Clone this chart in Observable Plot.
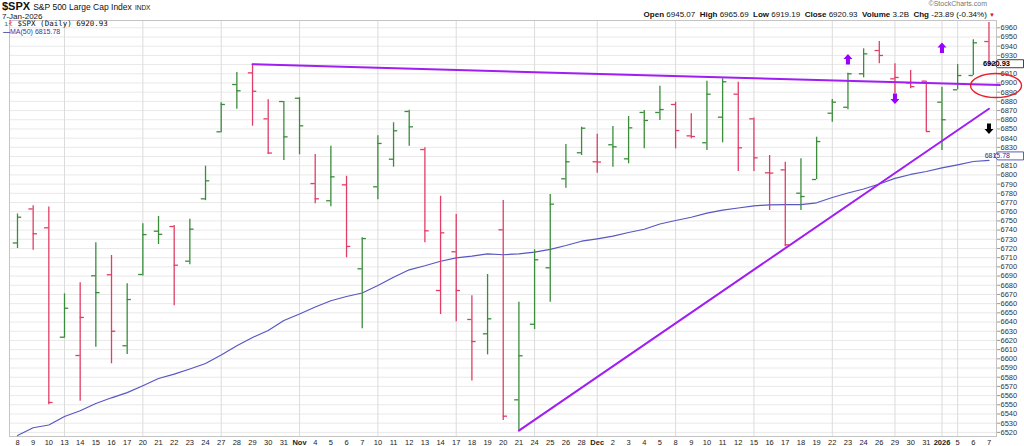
<!DOCTYPE html>
<html><head><meta charset="utf-8">
<script src="https://cdn.jsdelivr.net/npm/d3@7"></script>
<script src="https://cdn.jsdelivr.net/npm/@observablehq/plot@0.6"></script>
<style>
body{margin:0;background:#fff;font-family:"Liberation Sans",Arial,sans-serif;}
#wrap{position:relative;width:1024px;height:446px;overflow:hidden;}
#chart{position:absolute;left:0;top:20px;}
.abs{position:absolute;white-space:nowrap;}
</style></head>
<body><div id="wrap">
<div class="abs" style="left:2px;top:0px;font-size:11px;line-height:13px;color:#111"><b>$SPX</b> <span style="font-size:8.5px">S&amp;P 500 Large Cap Index</span> <span style="font-size:6.5px">INDX</span></div>
<div class="abs" style="left:2px;top:13px;font-size:8px;line-height:7px;color:#111">7-Jan-2026</div>
<div class="abs" style="right:37px;top:0px;font-size:7px;line-height:8px;color:#777">©StockCharts.com</div>
<div class="abs" id="info" style="right:29px;top:10px;font-size:8px;line-height:10px;color:#111"></div>
<div id="chart"></div>
<div class="abs" id="leg1" style="left:4px;top:20px;font-size:7.5px;line-height:7px;font-family:'DejaVu Sans Mono',monospace;color:#111"></div>
<div class="abs" id="leg2" style="left:3px;top:28px;font-size:7px;line-height:7px;color:#3434a8"></div>
</div>
<script>
// ---- data ----
const dateLabels = ["8","9","10","13","14","15","16","17","20","21","22","23","24","27","28","29","30","31",
 "Nov","4","5","6","7","10","11","12","13","14","17","18","19","20","21","24","25","26","28",
 "Dec","2","3","4","5","8","9","10","11","12","15","16","17","18","19","22","23","24","26","29","30","31",
 "2026","5","6","7"];
const boldLabels = ["Nov","Dec","2026"];
const opens  = [6726,6763,6742.5,6623.5,6603.6,6690.3,6691.4,6614.2,6691.7,6738.8,6743.9,6706.2,6774,6846.9,6898.3,6911,6861,6879.8,
 6883.4,6790.6,6771.9,6789.2,6697.9,6787.1,6817.1,6869,6827.6,6674.3,6716.4,6642.8,6627.2,6740.3,6555.4,6637.6,6699,6795.8,6824.1,
 6814.3,6832.8,6817.5,6867.9,6867.9,6876.6,6842.5,6835,6862.8,6887.8,6861,6802.3,6805.5,6780.1,6795,6867.1,6873.6,6910,6935.3,6904.5,6900,6902,
 6879.1,6892.6,6908.1,6945.07];
const highs  = [6757.5,6766.5,6765,6670.7,6682.7,6726.2,6712.4,6681.6,6746.8,6754.8,6745,6751.8,6809.5,6878.4,6911.4,6920.34,6881.7,6879.8,
 6884,6822.2,6831.2,6798.6,6731.6,6842.5,6856.7,6870.4,6829.5,6776.8,6756.9,6668.5,6691.7,6772.2,6661.6,6718.6,6778.7,6833.1,6851.9,
 6844.2,6852.7,6863.5,6870,6896.5,6879.1,6866.5,6901.9,6904.5,6900.9,6862,6821.1,6813.8,6817.5,6841,6882,6910.6,6937.1,6945.1,6920.8,6913.6,6902,
 6895.4,6920,6946.9,6965.69];
const lows   = [6720,6718,6550,6622.4,6553.9,6612.6,6594.6,6604.7,6690,6724.3,6657.6,6702.2,6772,6845.8,6871.5,6853,6822.2,6815.7,
 6821.9,6768.6,6765.3,6709.9,6632.6,6772.9,6808.4,6831.2,6726.2,6648.2,6640.3,6576,6604.3,6532.9,6521.9,6631.9,6661.6,6785.6,6821.1,
 6801.9,6808.4,6812.1,6828.4,6859.2,6828.4,6839.3,6826.6,6834.9,6803.7,6803.7,6761.3,6722,6761.3,6795,6857.3,6870.8,6905.6,6920.8,6888.2,6893.7,6847.2,
 6826.6,6892.6,6908.1,6919.19];
const closes = [6754,6736,6552.5,6655,6645,6672,6630,6664.5,6735.1,6735.4,6701.8,6741,6793.6,6876.6,6891.5,6891,6823.8,6841.4,
 6853.4,6774,6797.9,6722.2,6730.8,6834.2,6848,6852.3,6739.2,6737,6674.3,6618.8,6643.5,6537.6,6603.3,6707.7,6768.2,6814.3,6850.8,
 6814,6830.6,6851.2,6859.2,6871.1,6848.3,6841.8,6887.8,6901.3,6829.5,6818.6,6802,6724,6776.5,6836.3,6879.1,6910,6931.7,6929.9,6906,6896,6847.2,
 6860,6908.1,6943.7,6920.93];
const prevClose = 6714.6;
const ma50 = [6516.6,6525,6528,6537.3,6543.5,6551.4,6557.6,6563.2,6570.7,6578.6,6583.3,6588.9,6594.9,6604.1,6614.2,6623.2,6630.8,6641.7,
 6648.7,6656.4,6663.2,6667.8,6671.6,6679.7,6688.7,6696.8,6701.2,6706.1,6709.8,6711.6,6714.2,6713.2,6714.2,6716,6719.1,6723.2,6727.9,
 6730.5,6733.4,6737.4,6740.9,6746.6,6750.4,6754,6758.4,6761.8,6764,6766.4,6767.5,6767.6,6767.8,6769.7,6775.4,6780.3,6784.7,6790.1,6796.2,6800.5,6803.7,
 6807.6,6811,6814.6,6815.78];
const weekStartIdx = [3,8,13,18,23,28,33,37,42,47,52,56,59,60];
const resistanceLine = [[15,6920.34],[62.7,6897.7]];
const supportLine = [[32,6521.9],[62,6872]];
const upArrowsPurple = [[53,6925.5],[59,6938]];
const downArrowsPurple = [[56,6883]];
const downArrowsBlack = [[62,6850.5]];
const circled = [[62.45,6897.2]];
const lastClose = 6920.93, lastMA = 6815.78;
const yTicks = d3.range(6520, 6961, 10);
const hiddenYLabels = [6920, 6820];

// ---- header texts ----
document.getElementById("info").innerHTML =
 "<b>Open</b> 6945.07 &nbsp;<b>High</b> 6965.69 &nbsp;<b>Low</b> 6919.19 &nbsp;<b>Close</b> 6920.93 &nbsp;<b>Volume</b> 3.2B &nbsp;<b>Chg</b> -23.89 (-0.34%) <span style='color:#d0103a;font-size:6px'>&#9660;</span>";
document.getElementById("leg1").innerHTML =
 "<span style='color:#3b8c3b'>ı</span><span style='color:#e03a62'>ł</span> $SPX (Daily) " + lastClose.toFixed(2);
document.getElementById("leg2").innerHTML = "<b>&#8212;</b>MA(50) " + lastMA.toFixed(2);

// ---- build ----
const green = "#3b8c3b", red = "#e23d66";
const rows = dateLabels.map((d, i) => ({i, o: opens[i], h: highs[i], l: lows[i], c: closes[i],
  up: closes[i] > (i ? closes[i-1] : prevClose)}));
const maRows = ma50.map((v, i) => ({i, v}));
const tw = 0.27;

const upSym = {draw(ctx){ctx.moveTo(0,-5.5);ctx.lineTo(4.5,-0.5);ctx.lineTo(2,-0.5);ctx.lineTo(2,5);ctx.lineTo(-2,5);ctx.lineTo(-2,-0.5);ctx.lineTo(-4.5,-0.5);ctx.closePath();}};
const downSym = {draw(ctx){ctx.moveTo(0,5.5);ctx.lineTo(4.5,0.5);ctx.lineTo(2,0.5);ctx.lineTo(2,-5);ctx.lineTo(-2,-5);ctx.lineTo(-2,0.5);ctx.lineTo(-4.5,0.5);ctx.closePath();}};
const ellSym = {draw(ctx){const rx=25.5, ry=12, k=0.5523;
  ctx.moveTo(rx,0);ctx.bezierCurveTo(rx,ry*k,rx*k,ry,0,ry);ctx.bezierCurveTo(-rx*k,ry,-rx,ry*k,-rx,0);
  ctx.bezierCurveTo(-rx,-ry*k,-rx*k,-ry,0,-ry);ctx.bezierCurveTo(rx*k,-ry,rx,-ry*k,rx,0);ctx.closePath();}};
const tagSym = {draw(ctx){ctx.moveTo(-15,0);ctx.lineTo(-12,-4);ctx.lineTo(14,-4);ctx.lineTo(14,4);ctx.lineTo(-12,4);ctx.closePath();}};

const chart = Plot.plot({
  width: 1024, height: 426,
  marginTop: 0, marginBottom: 10, marginLeft: 9, marginRight: 28,
  style: {fontFamily: "'Liberation Sans', Arial, sans-serif", fontSize: "7.5px", background: "white", overflow: "visible", color: "#222"},
  x: {type: "linear", domain: [-0.51, 62.48], axis: null, label: null},
  y: {domain: [6515.52, 6967.94], axis: null, label: null},
  marks: [
    Plot.gridY(yTicks, {stroke: "#e9e9e9", strokeOpacity: 1}),
    Plot.gridX(weekStartIdx, {stroke: "#dcdcdc", strokeOpacity: 1}),
    Plot.frame({stroke: "#c4c4c4"}),
    Plot.axisX({ticks: d3.range(dateLabels.length), tickFormat: i => dateLabels[i], tickSize: 0, tickPadding: 3, fontSize: 7.5, label: null}),
    Plot.axisY({anchor: "right", ticks: yTicks, tickFormat: () => "", tickSize: 3, tickPadding: 1, stroke: "#999", label: null}),
    Plot.axisY({anchor: "right", ticks: yTicks.filter(v => !hiddenYLabels.includes(v)), tickFormat: d => String(d), tickSize: 0, tickPadding: 4, fontSize: 7.5, fill: "#333", label: null}),
    Plot.line(maRows, {x: "i", y: "v", stroke: "#5757c2", strokeWidth: 1.2}),
    Plot.ruleX(rows, {x: "i", y1: "l", y2: "h", stroke: d => d.up ? green : red, strokeWidth: 1.3}),
    Plot.ruleY(rows, {x1: d => d.i - tw, x2: "i", y: "o", stroke: d => d.up ? green : red, strokeWidth: 1.3}),
    Plot.ruleY(rows, {x1: "i", x2: d => d.i + tw, y: "c", stroke: d => d.up ? green : red, strokeWidth: 1.3}),
    Plot.line(resistanceLine, {stroke: "#a01ef2", strokeWidth: 2}),
    Plot.line(supportLine, {stroke: "#a01ef2", strokeWidth: 2}),
    Plot.dot(upArrowsPurple, {symbol: upSym, fill: "#9b00ff", stroke: "none"}),
    Plot.dot(downArrowsPurple, {symbol: downSym, fill: "#9b00ff", stroke: "none"}),
    Plot.dot(downArrowsBlack, {symbol: downSym, fill: "#000", stroke: "none"}),
    Plot.dot(circled, {symbol: ellSym, fill: "none", stroke: "#e8202a", strokeWidth: 1.4}),
    Plot.dot([lastClose], {y: d => d, frameAnchor: "right", dx: 13, symbol: tagSym, fill: "white", stroke: "#111", strokeWidth: 0.8}),
    Plot.text([lastClose], {y: d => d, text: d => d.toFixed(2), frameAnchor: "right", dx: 13.5, fill: "#000", fontWeight: "bold", fontSize: 7.5}),
    Plot.dot([lastMA], {y: d => d, frameAnchor: "right", dx: 13, dy: -4.5, symbol: tagSym, fill: "white", stroke: "#3434a8", strokeWidth: 0.8}),
    Plot.text([lastMA], {y: d => d, text: d => d.toFixed(2), frameAnchor: "right", dx: 13.5, dy: -4.5, fill: "#2a2a90", fontSize: 7})
  ]
});
chart.querySelectorAll("text").forEach(t => { if (boldLabels.includes(t.textContent)) t.setAttribute("font-weight", "bold"); });
document.getElementById("chart").appendChild(chart);
</script>
</body></html>
